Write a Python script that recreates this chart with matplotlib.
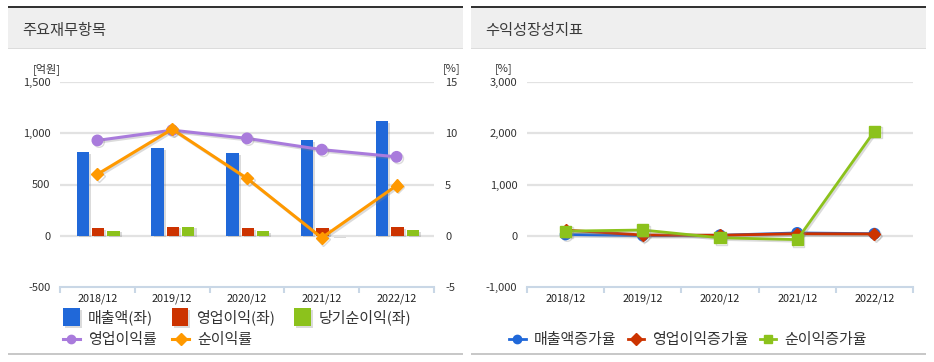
import matplotlib
matplotlib.use("Agg")
import matplotlib.pyplot as plt
import matplotlib.patheffects as pe
from matplotlib.patches import Rectangle
import numpy as np

plt.rcParams['font.family'] = ['Noto Sans CJK KR', 'DejaVu Sans']

# data
years = ['2018/12', '2019/12', '2020/12', '2021/12', '2022/12']
revenue = [817, 855, 804, 934, 1120]
op_income = [76, 88, 76, 78, 86]
net_income = [49, 89, 46, -2, 55]
op_margin = [9.3, 10.3, 9.5, 8.4, 7.7]
net_margin = [6.0, 10.4, 5.6, -0.2, 4.9]

rev_growth = [25, 5, 10, 55, 40]
op_growth = [110, 15, 10, 40, 35]
net_growth = [90, 112, -40, -75, 2040]

left_ticks = [-500, 0, 500, 1000, 1500]
pct_ticks = [-5, 0, 5, 10, 15]
growth_ticks = [-1000, 0, 1000, 2000, 3000]

W, H = 934, 362
fig = plt.figure(figsize=(W / 100, H / 100), dpi=100)


def rect(x0, y0, x1, y1):
    # pixel box (top-left origin) -> figure fraction
    return [x0 / W, 1 - y1 / H, (x1 - x0) / W, (y1 - y0) / H]


def fx(x):
    return x / W


def fy(y):
    return 1 - y / H


TXT = '#333333'
AXIS_C = '#c9d7e6'
GRID_C = '#e2e2e2'


def panel(x0, x1, title):
    fig.add_artist(Rectangle((fx(x0), fy(48)), fx(x1) - fx(x0), fy(7.5) - fy(48),
                             transform=fig.transFigure, color='#efefef', lw=0))
    fig.add_artist(Rectangle((fx(x0), fy(7.5)), fx(x1) - fx(x0), fy(5.5) - fy(7.5),
                             transform=fig.transFigure, color='#333333', lw=0))
    fig.add_artist(Rectangle((fx(x0), fy(49)), fx(x1) - fx(x0), fy(48) - fy(49),
                             transform=fig.transFigure, color='#dcdcdc', lw=0))
    fig.add_artist(Rectangle((fx(x0), fy(354.5)), fx(x1) - fx(x0), fy(352.5) - fy(354.5),
                             transform=fig.transFigure, color='#c8c8c8', lw=0))
    fig.text(fx(x0 + 14), fy(30), title, fontsize=11, color='#3a3a3a', va='center', ha='left')


def style_axes(ax, yticks, ylabels, side='left', pad=7):
    ax.set_xlim(-0.5, len(years) - 0.5)
    ax.set_ylim(yticks[0], yticks[-1])
    ax.set_yticks(yticks)
    ax.set_yticklabels(ylabels)
    for s in ax.spines.values():
        s.set_visible(False)
    ax.tick_params(axis='y', length=0, labelsize=8, labelcolor=TXT, pad=pad,
                   left=(side == 'left'), labelleft=(side == 'left'),
                   right=(side == 'right'), labelright=(side == 'right'))


def style_xaxis(ax):
    ax.spines['bottom'].set_visible(True)
    ax.spines['bottom'].set_color(AXIS_C)
    ax.spines['bottom'].set_linewidth(1.5)
    ax.set_xticks(np.arange(-0.5, len(years)), [''] * (len(years) + 1))
    ax.set_xticks(np.arange(len(years)), years, minor=True)
    ax.tick_params(axis='x', which='major', length=4, width=1.5, color=AXIS_C)
    ax.tick_params(axis='x', which='minor', length=0, labelsize=7.8, labelcolor='#222222', pad=5)
    for v in ax.get_yticks()[1:]:
        ax.axhline(v, color=GRID_C, lw=1.6, zorder=0)


def fmt(v):
    return f'{v:,}'


def shrink_markers(leg, size=6):
    for ln in leg.get_lines():
        ln.set_markersize(size)
        ln.set_path_effects([])


bar_shadow = [pe.SimplePatchShadow(offset=(1.5, -1.2), shadow_rgbFace='#888888', alpha=0.3), pe.Normal()]
line_shadow = [pe.SimpleLineShadow(offset=(1.2, -1.2), shadow_color='#888888', alpha=0.3), pe.Normal()]

# ---------------- left panel ----------------
panel(8, 463, '주요재무항목')
ax = fig.add_axes(rect(60, 82, 434, 287))
style_axes(ax, left_ticks, [fmt(v) for v in left_ticks], 'left', pad=7)
style_xaxis(ax)

x = np.arange(len(years))
bw = 0.165
b1 = ax.bar(x - 0.195, revenue, bw, color='#2068d9', label='매출액(좌)', zorder=2)
b2 = ax.bar(x + 0.01, op_income, bw, color='#cc3300', label='영업이익(좌)', zorder=2)
b3 = ax.bar(x + 0.215, net_income, bw, color='#8cc21c', label='당기순이익(좌)', zorder=2)
for bars in (b1, b2, b3):
    for p in bars:
        p.set_path_effects(bar_shadow)

ax2 = ax.twinx()
style_axes(ax2, pct_ticks, [str(v) for v in pct_ticks], 'right', pad=8)
ax2.set_xlim(-0.5, len(years) - 0.5)
l1, = ax2.plot(x, op_margin, color='#a97bdc', lw=2.2, marker='o', ms=7.5, label='영업이익률',
               path_effects=line_shadow, zorder=3)
l2, = ax2.plot(x, net_margin, color='#ff9900', lw=2.2, marker='D', ms=6.2, label='순이익률',
               path_effects=line_shadow, zorder=4)

fig.text(fx(47), fy(69), '[억원]', fontsize=8, color=TXT, ha='center', va='center')
fig.text(fx(452), fy(69), '[%]', fontsize=8, color=TXT, ha='center', va='center')

leg_kw = dict(frameon=False, fontsize=10.8, borderpad=0, borderaxespad=0,
              handlelength=1.1, handletextpad=0.55, labelcolor='#333333')
fig.legend(handles=[b1, b2, b3], loc='center left', bbox_to_anchor=(fx(63), fy(317)),
           ncol=3, columnspacing=1.25, handleheight=1.45, **leg_kw)
lg2 = fig.legend(handles=[l1, l2], loc='center left', bbox_to_anchor=(fx(63), fy(340)),
                 ncol=2, columnspacing=1.05, **leg_kw)
shrink_markers(lg2)

# ---------------- right panel ----------------
panel(471, 926, '수익성장성지표')
ay = fig.add_axes(rect(527, 82, 913, 287))
style_axes(ay, growth_ticks, [fmt(v) for v in growth_ticks], 'left', pad=7)
style_xaxis(ay)

g1, = ay.plot(x, rev_growth, color='#2068d9', lw=2, marker='o', ms=7.5, label='매출액증가율',
              path_effects=line_shadow, zorder=3)
g2, = ay.plot(x, op_growth, color='#cc3300', lw=2, marker='D', ms=6.2, label='영업이익증가율',
              path_effects=line_shadow, zorder=4)
g3, = ay.plot(x, net_growth, color='#8cc21c', lw=2, marker='s', ms=8, label='순이익증가율',
              path_effects=line_shadow, zorder=5)

fig.text(fx(504), fy(69), '[%]', fontsize=8, color=TXT, ha='center', va='center')

lg3 = fig.legend(handles=[g1, g2, g3], loc='center left', bbox_to_anchor=(fx(509), fy(340)),
                 ncol=3, columnspacing=0.75, **leg_kw)
shrink_markers(lg3)

fig.savefig('out.png', dpi=100)
